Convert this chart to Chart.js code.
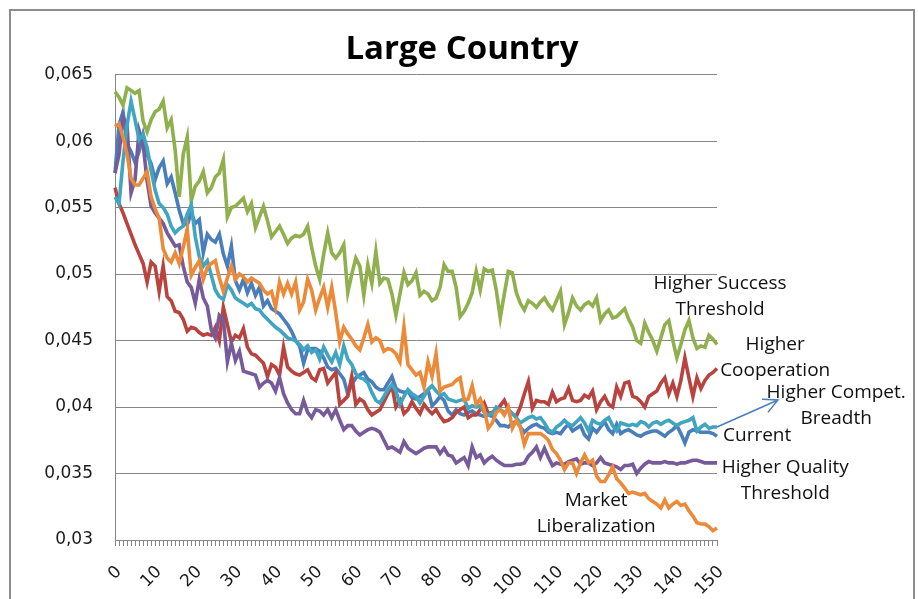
<!DOCTYPE html>
<html>
<head>
<meta charset="utf-8">
<script src="https://cdn.jsdelivr.net/npm/chart.js@4.4.1/dist/chart.umd.min.js"></script>
<style>
html, body { margin: 0; padding: 0; background: #fff; }
#wrap { width: 918px; height: 599px; }
</style>
</head>
<body>
<div id="wrap"><canvas id="myChart" width="918" height="599"></canvas></div>
<script>
// simulation steps 0..150
const steps = Array.from({ length: 151 }, (_, i) => String(i));
const xTickLabels = ['0', '10', '20', '30', '40', '50', '60', '70', '80', '90', '100', '110', '120', '130', '140', '150'];
const yTickLabels = ['0,03', '0,035', '0,04', '0,045', '0,05', '0,055', '0,06', '0,065'];

const current = [
    0.0576, 0.0612, 0.0622, 0.0598, 0.0592, 0.0584, 0.0592, 0.0605, 0.0590, 0.0583,
    0.0571, 0.0580, 0.0585, 0.0568, 0.0573, 0.0561, 0.0548, 0.0538, 0.0537, 0.0546,
    0.0538, 0.0541, 0.0516, 0.0530, 0.0526, 0.0524, 0.0530, 0.0515, 0.0506, 0.0521,
    0.0495, 0.0488, 0.0496, 0.0486, 0.0493, 0.0484, 0.0490, 0.0476, 0.0480, 0.0474,
    0.0472, 0.0470, 0.0466, 0.0462, 0.0457, 0.0450, 0.0446, 0.0433, 0.0443, 0.0444,
    0.0444, 0.0442, 0.0437, 0.0430, 0.0428, 0.0429, 0.0425, 0.0421, 0.0410, 0.0417,
    0.0422, 0.0424, 0.0426, 0.0421, 0.0419, 0.0415, 0.0413, 0.0413, 0.0418, 0.0423,
    0.0414, 0.0412, 0.0411, 0.0412, 0.0407, 0.0406, 0.0408, 0.0410, 0.0413, 0.0401,
    0.0404, 0.0408, 0.0405, 0.0397, 0.0394, 0.0398, 0.0395, 0.0394, 0.0396, 0.0397,
    0.0395, 0.0394, 0.0393, 0.0394, 0.0393, 0.0390, 0.0386, 0.0386, 0.0385, 0.0388,
    0.0389, 0.0385, 0.0381, 0.0384, 0.0386, 0.0387, 0.0385, 0.0384, 0.0381, 0.0380,
    0.0381, 0.0380, 0.0384, 0.0387, 0.0382, 0.0384, 0.0386, 0.0379, 0.0376, 0.0384,
    0.0381, 0.0385, 0.0389, 0.0383, 0.0380, 0.0387, 0.0380, 0.0382, 0.0383, 0.0381,
    0.0379, 0.0378, 0.0380, 0.0381, 0.0382, 0.0382, 0.0380, 0.0378, 0.0381, 0.0383,
    0.0386, 0.0380, 0.0373, 0.0381, 0.0383, 0.0382, 0.0381, 0.0381, 0.0381, 0.0380,
    0.0378
];

const higherCooperation = [
    0.0565, 0.0553, 0.0546, 0.0538, 0.0530, 0.0522, 0.0515, 0.0508, 0.0494, 0.0509,
    0.0506, 0.0487, 0.0506, 0.0483, 0.0480, 0.0472, 0.0471, 0.0466, 0.0457, 0.0460,
    0.0459, 0.0456, 0.0454, 0.0455, 0.0454, 0.0460, 0.0450, 0.0475, 0.0462, 0.0449,
    0.0454, 0.0452, 0.0459, 0.0445, 0.0440, 0.0439, 0.0436, 0.0433, 0.0423, 0.0432,
    0.0430, 0.0424, 0.0445, 0.0430, 0.0427, 0.0425, 0.0424, 0.0426, 0.0428, 0.0422,
    0.0420, 0.0428, 0.0429, 0.0418, 0.0422, 0.0426, 0.0402, 0.0405, 0.0408, 0.0423,
    0.0402, 0.0406, 0.0404, 0.0398, 0.0394, 0.0396, 0.0398, 0.0404, 0.0410, 0.0416,
    0.0400, 0.0405, 0.0395, 0.0398, 0.0404, 0.0399, 0.0395, 0.0402, 0.0398, 0.0395,
    0.0398, 0.0393, 0.0389, 0.0390, 0.0392, 0.0396, 0.0398, 0.0400, 0.0392, 0.0394,
    0.0394, 0.0398, 0.0403, 0.0395, 0.0396, 0.0398, 0.0401, 0.0405, 0.0398, 0.0395,
    0.0393, 0.0400, 0.0410, 0.0419, 0.0399, 0.0405, 0.0404, 0.0404, 0.0402, 0.0411,
    0.0404, 0.0406, 0.0407, 0.0414, 0.0405, 0.0404, 0.0405, 0.0409, 0.0407, 0.0412,
    0.0398, 0.0404, 0.0408, 0.0402, 0.0400, 0.0415, 0.0408, 0.0418, 0.0419, 0.0408,
    0.0407, 0.0404, 0.0400, 0.0408, 0.0410, 0.0412, 0.0418, 0.0422, 0.0410, 0.0418,
    0.0408, 0.0420, 0.0437, 0.0422, 0.0408, 0.0422, 0.0414, 0.0420, 0.0424, 0.0426,
    0.0429
];

const higherSuccess = [
    0.0637, 0.0633, 0.0627, 0.0640, 0.0638, 0.0636, 0.0638, 0.0615, 0.0607, 0.0616,
    0.0622, 0.0624, 0.0630, 0.0610, 0.0616, 0.0593, 0.0558, 0.0590, 0.0603, 0.0555,
    0.0566, 0.0570, 0.0577, 0.0561, 0.0565, 0.0573, 0.0576, 0.0586, 0.0543, 0.0550,
    0.0551, 0.0554, 0.0557, 0.0547, 0.0553, 0.0535, 0.0543, 0.0551, 0.0540, 0.0528,
    0.0532, 0.0536, 0.0530, 0.0523, 0.0527, 0.0529, 0.0528, 0.0530, 0.0536, 0.0520,
    0.0506, 0.0496, 0.0515, 0.0531, 0.0516, 0.0512, 0.0516, 0.0522, 0.0486, 0.0500,
    0.0512, 0.0506, 0.0484, 0.0507, 0.0493, 0.0517, 0.0493, 0.0497, 0.0496, 0.0485,
    0.0469, 0.0485, 0.0501, 0.0492, 0.0495, 0.0501, 0.0484, 0.0487, 0.0485, 0.0480,
    0.0482, 0.0490, 0.0507, 0.0502, 0.0502, 0.0490, 0.0468, 0.0472, 0.0478, 0.0486,
    0.0502, 0.0488, 0.0504, 0.0502, 0.0503, 0.0488, 0.0467, 0.0485, 0.0502, 0.0501,
    0.0486, 0.0478, 0.0473, 0.0480, 0.0478, 0.0475, 0.0479, 0.0482, 0.0477, 0.0473,
    0.0480, 0.0487, 0.0462, 0.0471, 0.0482, 0.0476, 0.0473, 0.0477, 0.0479, 0.0476,
    0.0482, 0.0465, 0.0470, 0.0473, 0.0467, 0.0468, 0.0471, 0.0474, 0.0466, 0.0460,
    0.0450, 0.0448, 0.0463, 0.0456, 0.0450, 0.0442, 0.0452, 0.0462, 0.0465, 0.0450,
    0.0437, 0.0447, 0.0458, 0.0465, 0.0452, 0.0444, 0.0446, 0.0445, 0.0454, 0.0451,
    0.0447
];

const higherQuality = [
    0.0576, 0.0590, 0.0618, 0.0612, 0.0561, 0.0571, 0.0608, 0.0598, 0.0570, 0.0551,
    0.0546, 0.0542, 0.0538, 0.0531, 0.0526, 0.0521, 0.0522, 0.0506, 0.0494, 0.0490,
    0.0478, 0.0496, 0.0482, 0.0476, 0.0458, 0.0452, 0.0469, 0.0466, 0.0434, 0.0448,
    0.0435, 0.0442, 0.0427, 0.0426, 0.0425, 0.0424, 0.0415, 0.0418, 0.0420, 0.0418,
    0.0412, 0.0422, 0.0410, 0.0403, 0.0398, 0.0395, 0.0395, 0.0405, 0.0396, 0.0392,
    0.0398, 0.0397, 0.0394, 0.0398, 0.0392, 0.0398, 0.0390, 0.0383, 0.0386, 0.0386,
    0.0382, 0.0379, 0.0381, 0.0383, 0.0384, 0.0383, 0.0381, 0.0375, 0.0369, 0.0370,
    0.0368, 0.0366, 0.0374, 0.0369, 0.0367, 0.0365, 0.0367, 0.0369, 0.0370, 0.0370,
    0.0370, 0.0365, 0.0369, 0.0364, 0.0363, 0.0358, 0.0360, 0.0362, 0.0356, 0.0370,
    0.0362, 0.0364, 0.0358, 0.0361, 0.0363, 0.0360, 0.0358, 0.0356, 0.0356, 0.0356,
    0.0357, 0.0357, 0.0358, 0.0363, 0.0366, 0.0370, 0.0362, 0.0369, 0.0362, 0.0356,
    0.0358, 0.0357, 0.0357, 0.0359, 0.0360, 0.0361, 0.0357, 0.0358, 0.0358, 0.0356,
    0.0358, 0.0362, 0.0358, 0.0357, 0.0356, 0.0355, 0.0353, 0.0356, 0.0356, 0.0357,
    0.0350, 0.0354, 0.0357, 0.0359, 0.0358, 0.0358, 0.0358, 0.0359, 0.0358, 0.0358,
    0.0357, 0.0358, 0.0358, 0.0359, 0.0360, 0.0360, 0.0359, 0.0358, 0.0358, 0.0358,
    0.0358
];

const higherBreadth = [
    0.0558, 0.0553, 0.0585, 0.0612, 0.0630, 0.0616, 0.0601, 0.0605, 0.0595, 0.0578,
    0.0563, 0.0553, 0.0550, 0.0545, 0.0536, 0.0531, 0.0534, 0.0536, 0.0545, 0.0552,
    0.0528, 0.0513, 0.0506, 0.0510, 0.0499, 0.0488, 0.0483, 0.0481, 0.0492, 0.0488,
    0.0482, 0.0480, 0.0478, 0.0476, 0.0478, 0.0474, 0.0473, 0.0469, 0.0466, 0.0463,
    0.0460, 0.0458, 0.0455, 0.0452, 0.0451, 0.0450, 0.0447, 0.0443, 0.0446, 0.0441,
    0.0443, 0.0436, 0.0445, 0.0439, 0.0434, 0.0441, 0.0432, 0.0446, 0.0436, 0.0432,
    0.0425, 0.0422, 0.0421, 0.0418, 0.0411, 0.0405, 0.0403, 0.0408, 0.0413, 0.0417,
    0.0412, 0.0402, 0.0408, 0.0413, 0.0410, 0.0408, 0.0403, 0.0408, 0.0413, 0.0416,
    0.0412, 0.0409, 0.0410, 0.0406, 0.0405, 0.0404, 0.0405, 0.0406, 0.0399, 0.0401,
    0.0400, 0.0401, 0.0396, 0.0394, 0.0395, 0.0400, 0.0398, 0.0396, 0.0397, 0.0395,
    0.0392, 0.0388, 0.0390, 0.0392, 0.0393, 0.0391, 0.0392, 0.0388, 0.0383, 0.0381,
    0.0385, 0.0387, 0.0390, 0.0387, 0.0386, 0.0389, 0.0392, 0.0388, 0.0382, 0.0390,
    0.0388, 0.0387, 0.0390, 0.0392, 0.0386, 0.0382, 0.0388, 0.0387, 0.0386, 0.0387,
    0.0386, 0.0389, 0.0388, 0.0385, 0.0388, 0.0389, 0.0387, 0.0389, 0.0390, 0.0388,
    0.0386, 0.0388, 0.0389, 0.0390, 0.0392, 0.0382, 0.0385, 0.0387, 0.0384, 0.0385,
    0.0385
];

const marketLiberalization = [
    0.0611, 0.0613, 0.0603, 0.0590, 0.0572, 0.0567, 0.0567, 0.0572, 0.0577, 0.0558,
    0.0549, 0.0542, 0.0519, 0.0512, 0.0509, 0.0516, 0.0508, 0.0520, 0.0534, 0.0499,
    0.0505, 0.0510, 0.0496, 0.0505, 0.0508, 0.0510, 0.0497, 0.0487, 0.0497, 0.0506,
    0.0496, 0.0500, 0.0498, 0.0494, 0.0497, 0.0495, 0.0493, 0.0488, 0.0485, 0.0487,
    0.0475, 0.0494, 0.0485, 0.0493, 0.0485, 0.0494, 0.0473, 0.0479, 0.0496, 0.0488,
    0.0473, 0.0482, 0.0490, 0.0475, 0.0490, 0.0471, 0.0449, 0.0460, 0.0455, 0.0451,
    0.0446, 0.0443, 0.0452, 0.0462, 0.0449, 0.0452, 0.0450, 0.0442, 0.0444, 0.0443,
    0.0440, 0.0434, 0.0460, 0.0432, 0.0428, 0.0424, 0.0426, 0.0415, 0.0434, 0.0423,
    0.0440, 0.0412, 0.0415, 0.0416, 0.0417, 0.0420, 0.0422, 0.0405, 0.0406, 0.0416,
    0.0402, 0.0406, 0.0398, 0.0384, 0.0388, 0.0396, 0.0398, 0.0394, 0.0400, 0.0384,
    0.0390, 0.0385, 0.0372, 0.0380, 0.0380, 0.0380, 0.0380, 0.0378, 0.0375, 0.0368,
    0.0365, 0.0360, 0.0353, 0.0358, 0.0358, 0.0350, 0.0358, 0.0364, 0.0358, 0.0360,
    0.0348, 0.0344, 0.0344, 0.0349, 0.0355, 0.0346, 0.0343, 0.0339, 0.0335, 0.0336,
    0.0335, 0.0334, 0.0335, 0.0331, 0.0329, 0.0327, 0.0324, 0.0330, 0.0324, 0.0327,
    0.0329, 0.0326, 0.0327, 0.0322, 0.0318, 0.0313, 0.0312, 0.0312, 0.0310, 0.0307,
    0.0309
];

// text labels placed next to the curves (step / value on the chart scales)
const curveNotes = [
    { lines: ['Higher Success', 'Threshold'], step: 150.75, value: 0.04827 },
    { lines: ['Higher', 'Cooperation'], step: 164.5, value: 0.04372 },
    { lines: ['Higher Compet.', 'Breadth'], step: 179.7, value: 0.04008 },
    { lines: ['Current'], step: 160.0, value: 0.03786 },
    { lines: ['Higher Quality', 'Threshold'], step: 167.0, value: 0.03444 },
    { lines: ['Market', 'Liberalization'], step: 119.9, value: 0.03196 }
];
const breadthArrowTip = { step: 165.2, value: 0.04053 };

const tickFont = { family: 'DejaVu Sans', size: 17 };

const frameAndNotes = {
    id: 'frameAndNotes',
    beforeDraw(chart) {
        const c = chart.ctx;
        c.save();
        c.fillStyle = '#ffffff';
        c.fillRect(0, 0, chart.width, chart.height);
        c.restore();
    },
    afterDraw(chart) {
        const c = chart.ctx;
        const xs = chart.scales.x, ys = chart.scales.y;
        c.save();
        // outer chart frame
        c.strokeStyle = '#8c8c8c';
        c.lineWidth = 2;
        c.strokeRect(10, 10, 904, 700);

        // curve names
        c.fillStyle = '#111';
        c.font = '19px "Open Sans"';
        c.textAlign = 'center';
        c.textBaseline = 'middle';
        curveNotes.forEach(n => {
            const x = xs.getPixelForValue(n.step);
            const y = ys.getPixelForValue(n.value) - (n.lines.length - 1) * 13;
            n.lines.forEach((t, i) => c.fillText(t, x, y + i * 26));
        });

        // arrow from the end of the breadth curve to its label
        const meta = chart.getDatasetMeta(4);
        const last = meta.data[meta.data.length - 1];
        const tx = xs.getPixelForValue(breadthArrowTip.step);
        const ty = ys.getPixelForValue(breadthArrowTip.value);
        const ang = Math.atan2(ty - last.y, tx - last.x);
        c.strokeStyle = '#4a7ebb';
        c.lineWidth = 1.5;
        c.beginPath();
        c.moveTo(last.x, last.y);
        c.lineTo(tx, ty);
        c.moveTo(tx - 16 * Math.cos(ang - 0.47), ty - 16 * Math.sin(ang - 0.47));
        c.lineTo(tx, ty);
        c.lineTo(tx - 16 * Math.cos(ang + 0.47), ty - 16 * Math.sin(ang + 0.47));
        c.stroke();
        c.restore();
    }
};

const seriesList = [
    { label: 'Current', data: current, color: '#4a7ebb' },
    { label: 'Higher Cooperation', data: higherCooperation, color: '#b8433f' },
    { label: 'Higher Success Threshold', data: higherSuccess, color: '#8fb04c' },
    { label: 'Higher Quality Threshold', data: higherQuality, color: '#775a9a' },
    { label: 'Higher Compet. Breadth', data: higherBreadth, color: '#40a5c0' },
    { label: 'Market Liberalization', data: marketLiberalization, color: '#ec8a3a' }
];

(function() {
    var ctx = document.querySelector('#myChart');
    new Chart(ctx, {
        type: 'line',
        data: {
            labels: steps,
            datasets: seriesList.map((s, i) => ({
                label: s.label,
                data: s.data,
                borderColor: s.color,
                backgroundColor: s.color,
                borderWidth: 3.6,
                pointRadius: 0,
                tension: 0,
                fill: false,
                order: seriesList.length - i
            }))
        },
        options: {
            responsive: false,
            animation: false,
            devicePixelRatio: 1,
            layout: { padding: { left: 6, top: 0, right: 0, bottom: 0 } },
            plugins: {
                legend: { display: false },
                tooltip: { enabled: false },
                title: {
                    display: true,
                    text: 'Large Country',
                    color: '#000',
                    font: { family: 'Open Sans', size: 33, weight: 'bold' },
                    padding: { top: 30, bottom: 5 }
                }
            },
            scales: {
                x: {
                    type: 'category',
                    grid: { display: true, drawOnChartArea: false, drawTicks: true, tickLength: 6, color: '#868686' },
                    border: { color: '#868686' },
                    ticks: {
                        autoSkip: false,
                        maxRotation: 45,
                        minRotation: 45,
                        padding: 16,
                        labelOffset: 4,
                        color: '#1a1a1a',
                        font: tickFont,
                        callback: (v, i) => (i % 10 === 0 ? xTickLabels[i / 10] : '')
                    },
                    afterFit: s => { s.height = 59; }
                },
                y: {
                    min: 0.03,
                    max: 0.065,
                    grid: { color: '#868686', drawTicks: false },
                    border: { color: '#868686' },
                    ticks: {
                        stepSize: 0.005,
                        padding: 22,
                        color: '#1a1a1a',
                        font: tickFont,
                        callback: (v, i) => yTickLabels[i]
                    },
                    afterFit: s => { s.width = 109; }
                },
                // empty right-hand band that leaves room for the curve names
                pad: {
                    type: 'linear',
                    position: 'right',
                    grid: { display: false },
                    border: { display: false },
                    ticks: { display: false },
                    afterFit: s => { s.width = 201; }
                }
            }
        },
        plugins: [frameAndNotes]
    });
})();
</script>
</body>
</html>
